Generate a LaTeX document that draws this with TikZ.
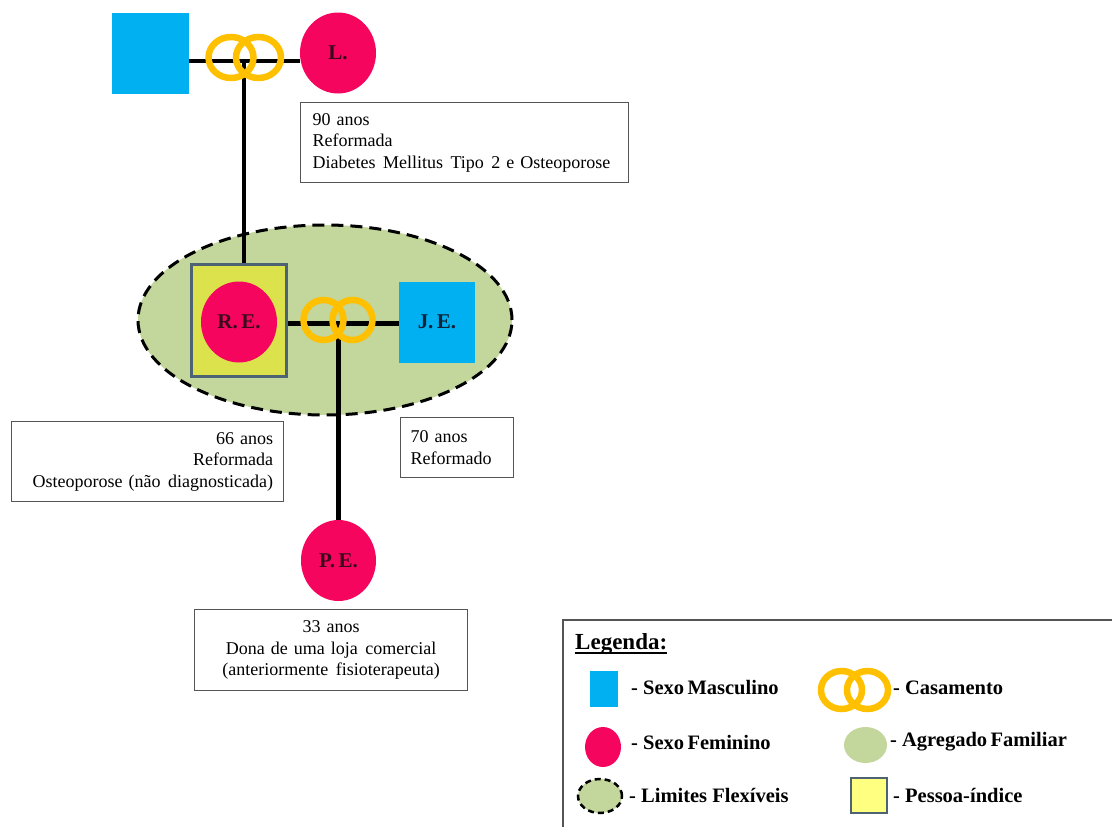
\documentclass[tikz,border=0pt]{standalone}
\usepackage{fontspec}
\setmainfont{Liberation Serif}
\usetikzlibrary{shapes.geometric}

\definecolor{male}{HTML}{00B0F0}
\definecolor{female}{HTML}{F5055E}
\definecolor{ringgold}{HTML}{FFC000}
\definecolor{household}{HTML}{C3D69B}
\definecolor{indexfill}{HTML}{DCE24B}
\definecolor{indexlegend}{HTML}{FFFF80}
\definecolor{indexedge}{HTML}{4D6373}
\definecolor{boxedge}{HTML}{555555}
\definecolor{femtext}{HTML}{3A0A1C}
\definecolor{maltext}{HTML}{0F2238}

% a slightly wider word gap, as in the printed notes
\newcommand{\wsp}{\hspace{7.5pt}}

\begin{document}
\begin{tikzpicture}[x=1pt,y=-1pt,
  man/.style={rectangle, fill=male, inner sep=0pt, text=maltext,
    font=\fontsize{21}{24}\selectfont\bfseries},
  woman/.style={ellipse, fill=female, inner sep=0pt, text=femtext,
    minimum width=76pt, minimum height=81pt,
    font=\fontsize{21}{24}\selectfont\bfseries},
  weddingring/.style={ellipse, draw=ringgold, line width=6.5pt, inner sep=0pt},
  tie/.style={line width=4.5pt, black},
  info/.style={rectangle, draw=boxedge, line width=1.2pt, fill=white,
    inner ysep=0pt, font=\fontsize{18}{21.5}\selectfont,
    anchor=north west},
  legtext/.style={anchor=west, inner sep=0pt,
    font=\fontsize{20.5}{24}\selectfont\bfseries},
  flexible/.style={draw=black, line width=3pt, dash pattern=on 12pt off 7pt}
]
\useasboundingbox (0,0) rectangle (1112,827);

% household and index person frame
\node[ellipse, fill=household, flexible, inner sep=0pt,
  minimum width=374pt, minimum height=190pt] (hh) at (325,320) {};
\node[rectangle, fill=indexfill, draw=indexedge, line width=2.5pt, inner sep=0pt,
  minimum width=95pt, minimum height=112pt] (idx) at (239,320.5) {};

% people
\node[man, minimum width=77pt, minimum height=81pt] (gf) at (150.5,53.5) {};
\node[woman] (L) at (338,53) {L.};
\node[woman] (RE) at (239,322) {R.\,E.};
\node[man, minimum width=76pt, minimum height=81pt] (JE) at (437,322) {J.\,E.};
\node[woman, minimum width=75pt] (PE) at (338.5,560.5) {P.\,E.};

% marriage junctions
\coordinate (j1) at (244,61);
\coordinate (j2) at (338.5,323.5);

% family lines
\draw[tie] (j1 -| gf.east) -- (j1 -| L.west);
\draw[tie] (j1) -- (j1 |- idx.north);
\draw[tie] (j2 -| idx.east) -- (j2 -| JE.west);
\draw[tie] (j2) -- (PE.north);

% wedding rings
\node[weddingring, minimum width=45pt, minimum height=41pt] (r1a) at (231,57.5) {};
\node[weddingring, minimum width=45pt, minimum height=41pt] (r1b) at (258.5,57.5) {};
\node[weddingring, minimum width=40pt, minimum height=40pt] (r2a) at (323.5,320) {};
\node[weddingring, minimum width=40pt, minimum height=40pt] (r2b) at (352.5,320) {};

% information boxes
\node[info, minimum width=328pt, minimum height=80pt, text width=304pt,
  inner xsep=12pt, align=left] (iL) at (300,102)
  {90 anos\\Reformada\\Diabetes\wsp Mellitus\wsp Tipo\wsp 2 e Osteoporose};
\node[info, minimum width=272pt, minimum height=80pt, text width=251pt,
  inner xsep=10.5pt, align=right] (iRE) at (11,421)
  {66 anos\\Reformada\\Osteoporose (não\wsp diagnosticada)};
\node[info, minimum width=113pt, minimum height=60pt, text width=93pt,
  inner xsep=10pt, align=left] (iJE) at (400,417)
  {70 anos\\Reformado};
\node[info, minimum width=273pt, minimum height=81pt, text width=253pt,
  inner xsep=10pt, align=center] (iPE) at (194,609)
  {33 anos\\Dona de uma loja\wsp comercial\\(anteriormente\wsp fisioterapeuta)};

% legend
\begin{scope}
\clip (0,0) rectangle (1112,827);
\draw[boxedge, line width=1.8pt] (563,620) rectangle (1130,845);
\end{scope}
\node[anchor=base west, inner sep=0pt, font=\fontsize{23}{27}\selectfont\bfseries]
  (legtitle) at (575,649) {Legenda:};
\draw[line width=1.6pt] ([yshift=-4pt]legtitle.base west) -- ([yshift=-4pt]legtitle.base east);

\node[rectangle, fill=male, inner sep=0pt, minimum width=28pt, minimum height=36pt]
  (kM) at (604,689) {};
\node[legtext] (tM) at (631,688) {- Sexo\,Masculino};

\node[ellipse, fill=female, inner sep=0pt, minimum width=36pt, minimum height=40pt]
  (kF) at (603,747) {};
\node[legtext] (tF) at (631,742) {- Sexo\,Feminino};

\node[ellipse, fill=household, draw=black, line width=2.5pt,
  dash pattern=on 6pt off 4pt, inner sep=0pt, minimum width=44pt, minimum height=34pt]
  (kL) at (600,796) {};
\node[legtext] (tL) at (629,795) {- Limites Flexíveis};

\node[weddingring, minimum width=41pt, minimum height=38pt] (kRa) at (841.5,690) {};
\node[weddingring, minimum width=41pt, minimum height=38pt] (kRb) at (867.5,690) {};
\node[legtext] (tR) at (893,688) {- Casamento};

\node[ellipse, fill=household, inner sep=0pt, minimum width=43pt, minimum height=36pt]
  (kA) at (865.5,745) {};
\node[legtext] (tA) at (890,742) {- Agregado\,Familiar};

\node[rectangle, fill=indexlegend, draw=indexedge, line width=2.5pt, inner sep=0pt,
  minimum width=36pt, minimum height=35pt] (kP) at (869,795.5) {};
\node[legtext] (tP) at (893,795) {- Pessoa-índice};
\end{tikzpicture}
\end{document}
